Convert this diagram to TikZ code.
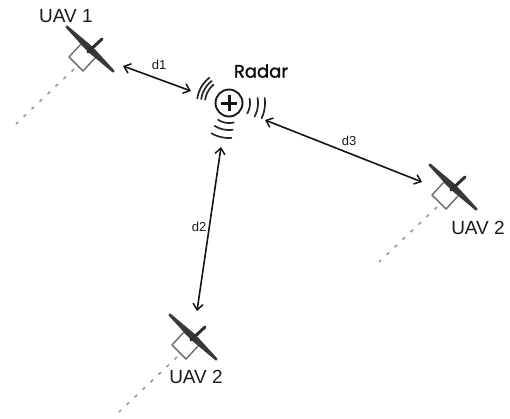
\documentclass[tikz,border=0pt]{standalone}
\usepackage{fontspec}
\setmainfont{Liberation Sans}
\newfontfamily\radarfont[FakeBold=1.5]{Poppins}
\usetikzlibrary{arrows.meta}
\tikzset{
  link/.style={{Straight Barb[length=6pt,width=10pt,line width=1.5pt]}-{Straight Barb[length=6pt,width=10pt,line width=1.5pt]},line width=1.6pt,black!92},
  uavtxt/.style={inner sep=0pt,font=\fontsize{19}{19}\selectfont,text=black!90},
  dtxt/.style={inner sep=0pt,font=\fontsize{13}{13}\selectfont,text=black!90},
  wave/.style={line width=1.7pt,black!85,line cap=round},
  uav/.pic={
    \draw[black!40,dash pattern=on 3.5pt off 7.5pt,line width=1.6pt] (-16,20) -- (-74,75);
    \draw[black!55,line width=1.5pt,line join=round] (-9,-5) -- (-21,8) -- (-7,22) -- (6,8) -- cycle;
    \draw[black!78,fill=black!78,line width=1.2pt,line join=round] (-23,-23) -- (2,-2) -- (24,22) -- (23,23) -- (-2,2) -- (-24,-22) -- cycle;
    \draw[black!82,line width=3pt,line cap=round] (12,-10) -- (-2,3);
  }
}
\begin{document}
\begin{tikzpicture}[x=1pt,y=-1pt]
\useasboundingbox (0,0) rectangle (510,418);
\pic at (90,49) {uav};
\pic at (453,187) {uav};
\pic at (193,337) {uav};
\node[uavtxt] (uav1) at (66,16) {UAV 1};
\node[uavtxt] (uav2) at (478,228) {UAV 2};
\node[uavtxt] (uav3) at (196,377) {UAV 2};
\node[circle,draw=black!90,line width=1.9pt,minimum size=27pt,inner sep=0pt] (radar) at (229,103) {};
\draw[line width=3pt,black!92] (221,103) -- (237,103) (229,95) -- (229,111);
\node[inner sep=0pt,font=\radarfont\fontsize{18}{18}\selectfont,text=black!95] (radarlabel) at (261,71) {Radar};
\foreach \r/\a/\b in {24/130/172,28/128/172,32/128/172,21/-30/12,29/-28/10,36/-25/8,20/237/284,27/238/278,35/240/274}{
  \draw[wave] plot[domain=\a:\b,samples=12,smooth] ({229+\r*cos(\x)},{103-\r*sin(\x)});
}
\coordinate (a1) at (123,66);
\coordinate (a2) at (191,91);
\coordinate (b1) at (221,147);
\coordinate (b2) at (197,311);
\coordinate (c1) at (265,120);
\coordinate (c2) at (422,182);
\draw[link] (a1) -- (a2);
\draw[link] (b1) -- (b2);
\draw[link] (c1) -- (c2);
\node[dtxt] (d1) at (159,65) {d1};
\node[dtxt] (d2) at (199,227) {d2};
\node[dtxt] (d3) at (349,141) {d3};
\end{tikzpicture}
\end{document}
